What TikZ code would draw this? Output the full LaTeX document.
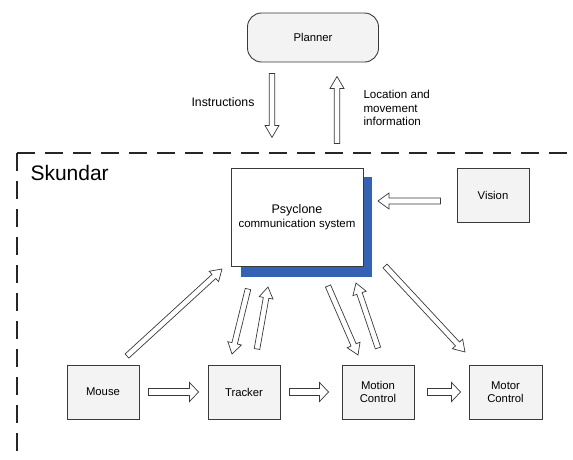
\documentclass[tikz,border=0pt]{standalone}
\usepackage{fontspec}
\setmainfont{Liberation Sans}
\usetikzlibrary{calc}
\definecolor{boxfill}{HTML}{F3F3F3}
\definecolor{lineg}{HTML}{3A3A3A}
\definecolor{shadowblue}{HTML}{3463B5}
\tikzset{
  box/.style={draw=lineg, line width=0.9pt, fill=boxfill, inner sep=0pt, align=center, font=\fontsize{11.3}{13.5}\selectfont},
  barrowstyle/.style={draw=lineg, line width=0.7pt, fill=white, line join=miter},
  frame/.style={draw=black!85, line width=1.4pt, dash pattern=on 18pt off 10pt},
}
% \barr{shaft half}{head half}{head length}{start}{end}
\newcommand{\barr}[5]{%
  \coordinate (bA) at #4; \coordinate (bB) at #5;
  \coordinate (bC) at ($(bB)!#3pt!(bA)$);
  \draw[barrowstyle] ($(bA)!#1pt!90:(bB)$) -- ($(bC)!#1pt!90:(bB)$) -- ($(bC)!#2pt!90:(bB)$) -- (bB)
     -- ($(bC)!#2pt!-90:(bB)$) -- ($(bC)!#1pt!-90:(bB)$) -- ($(bA)!#1pt!-90:(bB)$) -- cycle;
}
\begin{document}
\begin{tikzpicture}[x=1pt,y=-1pt]
\useasboundingbox[fill=white] (0,0) rectangle (573,459);
% frame
\draw[frame] (17,153) -- (573,153);
\draw[frame] (17,153) -- (17,459);
\node[anchor=west, font=\fontsize{21}{24}\selectfont] (sk) at (27,173) {Skundar};
% planner
\node[box, rounded corners=14pt, minimum width=131pt, minimum height=49pt] (planner) at (313,37.5) {Planner};
% psyclone
\fill[shadowblue] (241,177) rectangle (372,277);
\node[box, fill=white, minimum width=132pt, minimum height=98pt, font=\fontsize{11.5}{14}\selectfont] (psy) at (297,217) {{\fontsize{12.5}{14}\selectfont Psyclone}\\communication system};
% vision
\node[box, minimum width=72pt, minimum height=54pt] (vision) at (493,195) {Vision};
% bottom row
\node[box, minimum width=72pt, minimum height=54pt] (mouse) at (103,392) {Mouse};
\node[box, minimum width=72pt, minimum height=54pt] (tracker) at (244,392) {Tracker};
\node[box, minimum width=72pt, minimum height=54pt] (motion) at (378,392) {Motion\\Control};
\node[box, minimum width=73pt, minimum height=54pt] (motor) at (505.5,392) {Motor\\Control};
% labels
\node[anchor=east, font=\fontsize{12.3}{14}\selectfont] (instr) at (258,102) {Instructions};
\node[anchor=west, align=left, font=\fontsize{11.6}{13.2}\selectfont] (loc) at (360,108) {Location and\\movement\\information};
% planner arrows
\coordinate (i1) at ($(planner.south)+(-41,11)$);
\coordinate (i2) at ($(planner.south)+(-41,75)$);
\barr{2.8}{7}{12}{(i1)}{(i2)}
\coordinate (l1) at ($(planner.south)+(24,81)$);
\coordinate (l2) at ($(planner.south)+(24,14)$);
\barr{2.8}{7}{12}{(l1)}{(l2)}
% vision -> psyclone
\coordinate (v1) at ($(vision.west)+(-16,6)$);
\coordinate (v2) at (378,201);
\barr{3}{8}{11}{(v1)}{(v2)}
% horizontal arrows
\barr{3.5}{9.5}{9}{($(mouse.east)+(9,0)$)}{($(tracker.west)+(-9,0)$)}
\barr{3.5}{9.5}{9}{($(tracker.east)+(9,0)$)}{($(motion.west)+(-13,0)$)}
\barr{3.5}{9.5}{9}{($(motion.east)+(13,0)$)}{($(motor.west)+(-8,0)$)}
% diagonal arrows
\coordinate (m1) at (127,356); \coordinate (m2) at (222,269);
\barr{2.8}{7}{11}{(m1)}{(m2)}
\coordinate (t1) at (248,289); \coordinate (t2) at (232,354);
\barr{2.8}{7}{11}{(t1)}{(t2)}
\coordinate (t3) at (257,349); \coordinate (t4) at (268,287);
\barr{2.8}{7}{11}{(t3)}{(t4)}
\coordinate (c1) at (328,286); \coordinate (c2) at (358,355);
\barr{2.8}{7}{11}{(c1)}{(c2)}
\coordinate (c3) at (378,348); \coordinate (c4) at (356,283);
\barr{2.8}{7}{11}{(c3)}{(c4)}
\coordinate (r1) at (385,266); \coordinate (r2) at (465,352);
\barr{2.8}{7}{11}{(r1)}{(r2)}
\end{tikzpicture}
\end{document}
